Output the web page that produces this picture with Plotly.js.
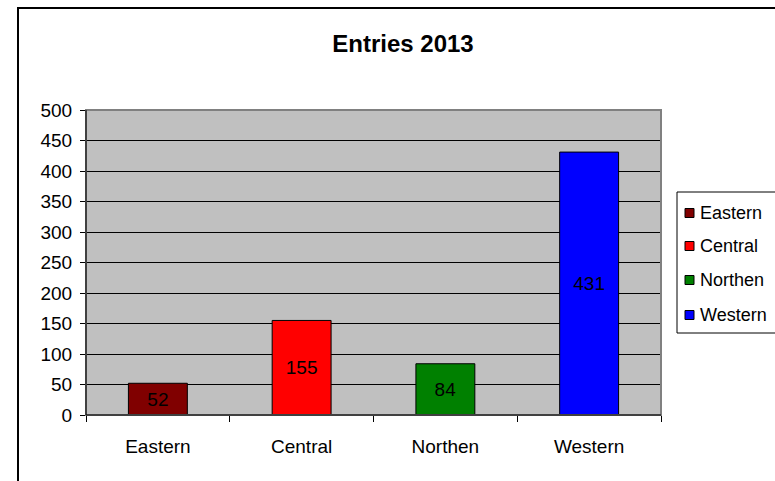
<!DOCTYPE html>
<html>
<head>
<meta charset="utf-8">
<script src="https://cdn.plot.ly/plotly-3.0.1.min.js"></script>
<style>html,body{margin:0;padding:0;background:#fff}#chart{width:775px;height:481px}</style>
</head>
<body>
<div id="chart"></div>
<script>
var categories = ["Eastern", "Central", "Northen", "Western"];
var values = [52, 155, 84, 431];
var colors = ["#800000", "#FF0000", "#008000", "#0000FF"];
var yTicks = [0, 50, 100, 150, 200, 250, 300, 350, 400, 450, 500];
var chartTitle = "Entries 2013";

var FONT = "Liberation Sans, Arial, sans-serif";
var W = 775, H = 481, ML = 86, MR = 114, MT = 110, MB = 66;
var PW = W - ML - MR, PH = H - MT - MB;
function px(x) { return (x - ML) / PW; }
function py(y) { return (H - MB - y) / PH; }

var traces = categories.map(function (c, i) {
  return {
    type: "bar",
    name: c,
    x: [c],
    y: [values[i]],
    text: [String(values[i])],
    textposition: "inside",
    insidetextanchor: "middle",
    constraintext: "none",
    textfont: {family: FONT, size: 19, color: "#000"},
    marker: {color: colors[i], line: {color: "#000", width: 1}},
    width: 0.41,
    showlegend: false,
    hoverinfo: "x+y"
  };
});

var shapes = [
  {type: "rect", xref: "paper", yref: "paper", x0: 0, x1: 1, y0: 0, y1: 1,
   line: {color: "#808080", width: 2}, layer: "above"},
  {type: "line", xref: "paper", yref: "paper", x0: 0, x1: 0, y0: 0, y1: 1,
   line: {color: "#000", width: 1}, layer: "above"},
  {type: "line", xref: "paper", yref: "paper", x0: 0, x1: 1, y0: 0, y1: 0,
   line: {color: "#000", width: 1}, layer: "above"},
  {type: "rect", xref: "paper", yref: "paper", x0: px(18), x1: px(800), y0: py(500), y1: py(8),
   line: {color: "#000", width: 2}, fillcolor: "rgba(0,0,0,0)", layer: "below"},
  // legend box
  {type: "rect", xref: "paper", yref: "paper", x0: px(677), x1: px(790), y0: py(333), y1: py(192),
   line: {color: "#000", width: 1}, fillcolor: "#fff", layer: "above"}
];
var annotations = [];
var legendY = [213, 246, 280, 315];
categories.forEach(function (c, i) {
  var yc = legendY[i];
  shapes.push({type: "rect", xref: "paper", yref: "paper",
    x0: px(685), x1: px(694), y0: py(yc + 4.5), y1: py(yc - 4.5),
    line: {color: "#000", width: 1}, fillcolor: colors[i], layer: "above"});
  annotations.push({xref: "paper", yref: "paper", x: px(698), y: py(yc),
    xanchor: "left", yanchor: "middle", showarrow: false, text: c,
    font: {family: FONT, size: 18, color: "#000"}});
});

var layout = {
  width: W, height: H,
  margin: {l: ML, r: MR, t: MT, b: MB, autoexpand: false},
  paper_bgcolor: "#fff",
  plot_bgcolor: "#C0C0C0",
  font: {family: FONT, size: 18, color: "#000"},
  barmode: "overlay",
  showlegend: false,
  title: {text: "<b>" + chartTitle + "</b>", font: {family: FONT, size: 24, color: "#000"},
          x: px(403), xanchor: "center", y: 0.91, yanchor: "middle", xref: "paper"},
  xaxis: {
    type: "category", categoryarray: categories, categoryorder: "array",
    tickson: "boundaries", ticks: "outside", ticklen: 6, tickcolor: "#000", tickwidth: 1,
    showline: true, linecolor: "#000", linewidth: 1, showgrid: false,
    ticklabelstandoff: 14,
    tickfont: {family: FONT, size: 19, color: "#000"}, fixedrange: true
  },
  yaxis: {
    range: [0, 500], tickvals: yTicks, ticktext: yTicks.map(String),
    ticks: "outside", ticklen: 5, tickcolor: "#000",
    ticklabelstandoff: 4,
    showline: true, linecolor: "#000", linewidth: 1,
    showgrid: true, gridcolor: "#000", gridwidth: 1, zeroline: false,
    tickfont: {family: FONT, size: 19, color: "#000"}, fixedrange: true
  },
  shapes: shapes,
  annotations: annotations
};

Plotly.newPlot("chart", traces, layout, {staticPlot: true, displayModeBar: false});
</script>
</body>
</html>
